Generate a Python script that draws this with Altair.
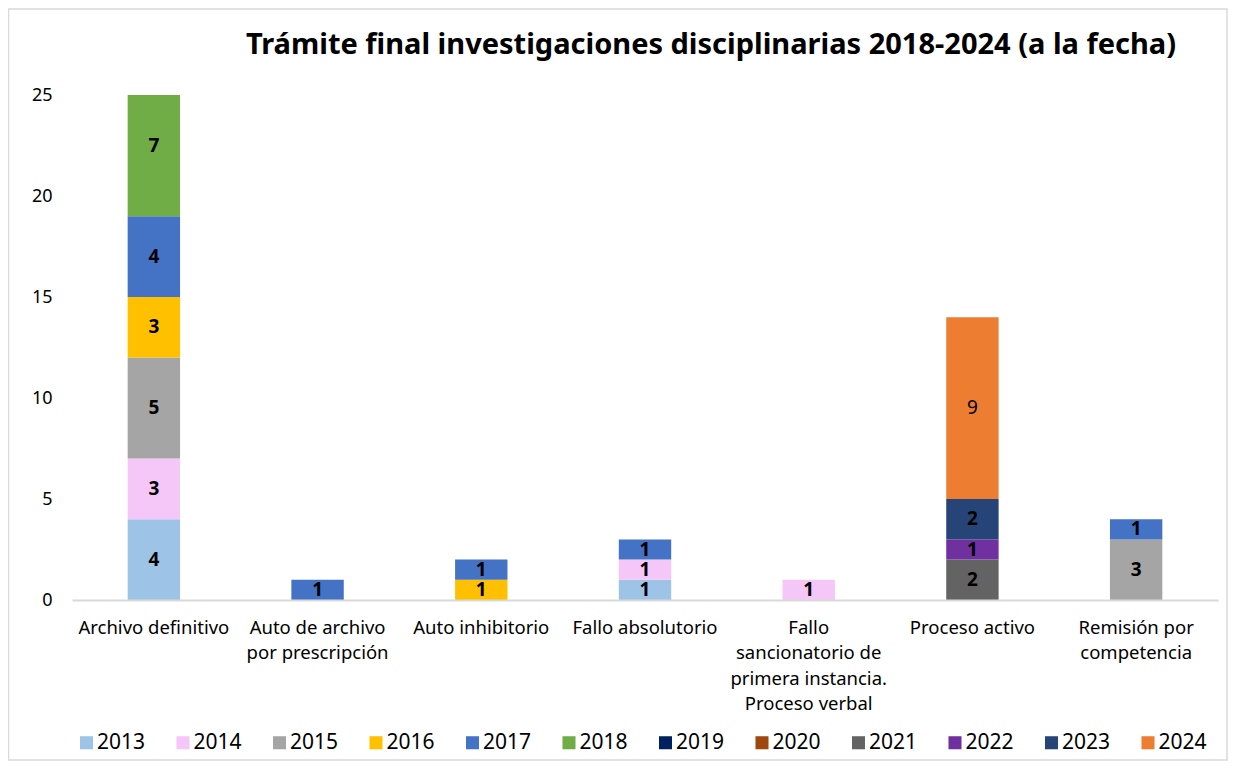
import altair as alt
import pandas as pd

title_text = "Trámite final investigaciones disciplinarias 2018-2024 (a la fecha)"
categories = [
    "Archivo definitivo",
    "Auto de archivo\npor prescripción",
    "Auto inhibitorio",
    "Fallo absolutorio",
    "Fallo\nsancionatorio de\nprimera instancia.\nProceso verbal",
    "Proceso activo",
    "Remisión por\ncompetencia",
]
years = ["2013", "2014", "2015", "2016", "2017", "2018",
         "2019", "2020", "2021", "2022", "2023", "2024"]
colors = ["#9DC3E6", "#F5C6F8", "#A5A5A5", "#FFC000", "#4472C4", "#70AD47",
          "#002060", "#9E480E", "#636363", "#7030A0", "#264478", "#ED7D31"]

# values per category (year -> count)
archivo_definitivo = {"2013": 4, "2014": 3, "2015": 5, "2016": 3, "2017": 4, "2018": 7}
auto_archivo = {"2017": 1}
auto_inhibitorio = {"2016": 1, "2017": 1}
fallo_absolutorio = {"2013": 1, "2014": 1, "2017": 1}
fallo_sancionatorio = {"2014": 1}
proceso_activo = {"2021": 2, "2022": 1, "2023": 2, "2024": 9}
remision = {"2015": 3, "2017": 1}

series = [archivo_definitivo, auto_archivo, auto_inhibitorio, fallo_absolutorio,
          fallo_sancionatorio, proceso_activo, remision]

rows = []
for cat, vals in zip(categories, series):
    for y, v in vals.items():
        rows.append({"cat": cat, "year": y, "value": v})
df = pd.DataFrame(rows)

FONT = "Noto Sans"
W, H = 1146, 505

x_enc = alt.X("cat:N", sort=categories,
              scale=alt.Scale(paddingInner=0.68, paddingOuter=0.34),
              axis=alt.Axis(title=None, labelAngle=0, ticks=False, domainColor="#d9d9d9",
                            domainWidth=2, labelFontSize=18.5, labelFont=FONT,
                            labelColor="#000000", labelPadding=18, labelLineHeight=25.5,
                            labelLimit=300, zindex=1,
                            labelExpr="split(datum.label, '\\n')"))
y_scale = alt.Scale(domain=[0, 25], nice=False)

base = alt.Chart(df)

bars = base.mark_bar(clip=True).encode(
    x=x_enc,
    y=alt.Y("sum(value):Q", scale=y_scale,
            axis=alt.Axis(title=None, values=[0, 5, 10, 15, 20, 25], grid=False, domain=False,
                          ticks=False, labelFontSize=18, labelFont=FONT, labelColor="#000000",
                          labelPadding=20, zindex=1)),
    color=alt.Color("year:N", scale=alt.Scale(domain=years, range=colors),
                    legend=alt.Legend(title=None, orient="none", direction="horizontal",
                                      columns=12, legendX=4, legendY=637,
                                      symbolType="square", symbolSize=170,
                                      symbolStrokeWidth=0, labelFontSize=21,
                                      labelFont=FONT, labelColor="#000000",
                                      labelOffset=0, columnPadding=26.5)),
    order=alt.Order("year:N", sort="ascending"),
)

stacked = base.transform_stack(
    stack="value", groupby=["cat"], as_=["y0", "y1"],
    sort=[alt.SortField("year", order="ascending")]
).transform_calculate(mid="(datum.y0 + datum.y1) / 2")

labels_bold = stacked.transform_filter("datum.year != '2024'").mark_text(
    fontWeight="bold", fontSize=19, font=FONT, color="#000000", baseline="middle"
).encode(x=alt.X("cat:N", sort=categories), y=alt.Y("mid:Q", scale=y_scale), text="value:Q")

labels_plain = stacked.transform_filter("datum.year == '2024'").mark_text(
    fontWeight="normal", fontSize=19, font=FONT, color="#000000", baseline="middle"
).encode(x=alt.X("cat:N", sort=categories), y=alt.Y("mid:Q", scale=y_scale), text="value:Q")

frame = alt.Chart(alt.Data(values=[{"a": 1}])).mark_rect(
    filled=False, stroke="#d9d9d9", strokeWidth=1.5
).encode(x=alt.value(-63.5), x2=alt.value(1155), y=alt.value(-86), y2=alt.value(665))

title = alt.Chart(alt.Data(values=[{"t": title_text}])).mark_text(
    fontSize=29, fontWeight="bold", font=FONT, color="#000000", baseline="middle"
).encode(x=alt.value(639), y=alt.value(-50), text="t:N")

chart = alt.layer(frame, bars, labels_bold, labels_plain, title).properties(
    width=W, height=H,
    background="white",
    autosize=alt.AutoSizeParams(type="none"),
    padding={"left": 64, "top": 87, "right": 10, "bottom": 167},
).configure_view(stroke="transparent", strokeWidth=0)

chart.save("out.html", embed_options={"renderer": "svg", "actions": False})
